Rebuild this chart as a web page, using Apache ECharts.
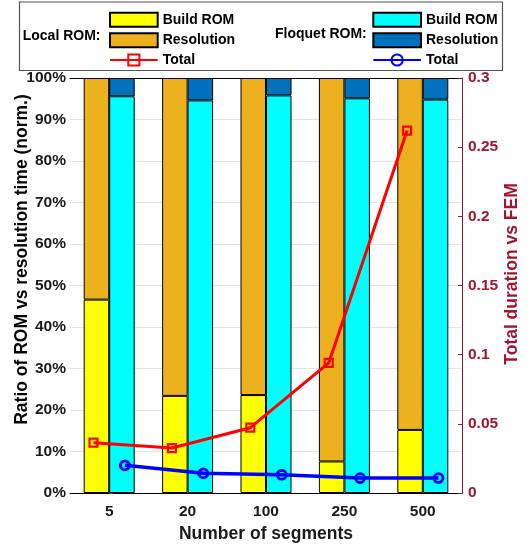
<!DOCTYPE html>
<html>
<head>
<meta charset="utf-8">
<script src="https://cdn.jsdelivr.net/npm/echarts@6/dist/echarts.min.js"></script>
<style>
html,body{margin:0;padding:0;background:#fff;}
#chart{width:532px;height:549px;}
</style>
</head>
<body>
<div id="chart"></div>
<script>
const categories = ['5', '20', '100', '250', '500'];
const localBuild = [46.6, 23.4, 23.6, 7.6, 15.2];
const localRes = [53.4, 76.6, 76.4, 92.4, 84.8];
const floquetBuild = [95.6, 94.6, 95.8, 95.1, 94.8];
const floquetRes = [4.4, 5.4, 4.2, 4.9, 5.2];
const localTotal = [0.0364, 0.0325, 0.0472, 0.094, 0.262];
const floquetTotal = [0.0200, 0.0142, 0.0132, 0.0108, 0.0108];
const leftAxisMax = 100, leftAxisStep = 10;
const rightAxisMax = 0.3, rightAxisStep = 0.05;

const FONT = '"Liberation Sans", Arial, sans-serif';
const DARKRED = '#A2142F';
const chart = echarts.init(document.getElementById('chart'), null, {renderer: 'canvas'});

function leg(name, left, top, icon) {
  const l = {
    data: [name], left: left, top: top, padding: 0, orient: 'vertical',
    itemWidth: 47.7, itemHeight: 14, itemGap: 0, selectedMode: false,
    textStyle: {fontFamily: FONT, fontWeight: 'bold', fontSize: 14, color: '#000'},
    formatter: function (n) { return n.replace(/^(Local|Floquet) /, ''); }
  };
  if (icon) l.icon = icon;
  return l;
}

const option = {
  animation: false,
  backgroundColor: '#fff',
  grid: {left: 70, right: 70, top: 78, bottom: 56, containLabel: false},
  legend: [
    leg('Local Build ROM', 109, 11.7, 'rect'),
    leg('Local Resolution', 109, 32.3, 'rect'),
    leg('Local Total', 109, 53),
    leg('Floquet Build ROM', 372.3, 11.7, 'rect'),
    leg('Floquet Resolution', 372.3, 32.3, 'rect'),
    leg('Floquet Total', 372.3, 53)
  ],
  graphic: [
    {type: 'rect', shape: {x: 19.5, y: 2, width: 483, height: 68.5},
     style: {fill: 'none', stroke: '#555', lineWidth: 1.2}, silent: true},
    {type: 'text', x: 22.7, y: 36, style: {text: 'Local ROM:', font: 'bold 14px ' + FONT, fill: '#000',
      textAlign: 'left', verticalAlign: 'middle', textVerticalAlign: 'middle'}},
    {type: 'text', x: 275, y: 34, style: {text: 'Floquet ROM:', font: 'bold 14px ' + FONT, fill: '#000',
      textAlign: 'left', verticalAlign: 'middle', textVerticalAlign: 'middle'}},
    {type: 'text', x: 21.7, y: 259.5, rotation: Math.PI / 2,
     style: {text: 'Ratio of ROM vs resolution time (norm.)', font: 'bold 17.5px ' + FONT, fill: '#000',
      textAlign: 'center', verticalAlign: 'middle', textVerticalAlign: 'middle'}},
    {type: 'text', x: 512.3, y: 274, rotation: Math.PI / 2,
     style: {text: 'Total duration vs FEM', font: 'bold 17.5px ' + FONT, fill: DARKRED,
      textAlign: 'center', verticalAlign: 'middle', textVerticalAlign: 'middle'}}
  ],
  xAxis: [
    {
      type: 'category', data: categories, position: 'bottom',
      axisLine: {lineStyle: {color: '#000', width: 1}},
      axisTick: {show: false},
      axisLabel: {fontFamily: FONT, fontWeight: 'bold', fontSize: 15.5, color: '#1a1a1a', margin: 11},
      name: 'Number of segments', nameLocation: 'middle', nameGap: 30,
      nameTextStyle: {fontFamily: FONT, fontWeight: 'bold', fontSize: 17.5, color: '#1a1a1a'}
    },
    {
      type: 'value', min: -0.5, max: 4.5, position: 'top',
      axisLine: {show: true, onZero: false, lineStyle: {color: '#000', width: 1}},
      axisTick: {show: false}, axisLabel: {show: false}, splitLine: {show: false}
    }
  ],
  yAxis: [
    {
      type: 'value', min: 0, max: leftAxisMax, interval: leftAxisStep, position: 'left',
      axisLine: {show: true, lineStyle: {color: '#404040', width: 1}},
      axisTick: {show: true, inside: true, length: 4, lineStyle: {color: '#404040'}},
      axisLabel: {formatter: '{value}%', fontFamily: FONT, fontWeight: 'bold', fontSize: 15.5, color: '#1a1a1a', margin: 4},
      splitLine: {show: true, lineStyle: {color: '#e3e3e3', width: 1}}
    },
    {
      type: 'value', min: 0, max: rightAxisMax, interval: rightAxisStep, position: 'right',
      axisLine: {show: true, lineStyle: {color: DARKRED, width: 1}},
      axisTick: {show: true, inside: true, length: 4, lineStyle: {color: DARKRED}},
      axisLabel: {fontFamily: FONT, fontWeight: 'bold', fontSize: 15.5, color: DARKRED, margin: 6},
      splitLine: {show: false}
    }
  ],
  series: [
    {name: 'Local Build ROM', type: 'bar', stack: 'local', data: localBuild, barWidth: 25.5, barGap: '0%',
     itemStyle: {color: '#FFFF00', borderColor: '#000', borderWidth: 1}},
    {name: 'Local Resolution', type: 'bar', stack: 'local', data: localRes, barWidth: 25.5, barGap: '0%',
     itemStyle: {color: '#EDB120', borderColor: '#000', borderWidth: 1}},
    {name: 'Floquet Build ROM', type: 'bar', stack: 'floquet', data: floquetBuild, barWidth: 25.5, barGap: '0%',
     itemStyle: {color: '#00FFFF', borderColor: '#000', borderWidth: 1}},
    {name: 'Floquet Resolution', type: 'bar', stack: 'floquet', data: floquetRes, barWidth: 25.5, barGap: '0%',
     itemStyle: {color: '#0072BD', borderColor: '#000', borderWidth: 1}},
    {name: 'Local Total', type: 'line', xAxisIndex: 1, yAxisIndex: 1, z: 5,
     data: localTotal.map(function (v, i) { return [i - 0.2, v]; }),
     symbol: 'rect', symbolSize: 8,
     lineStyle: {color: '#FF0000', width: 3},
     itemStyle: {color: 'rgba(0,0,0,0)', borderColor: '#FF0000', borderWidth: 2.2}},
    {name: 'Floquet Total', type: 'line', xAxisIndex: 1, yAxisIndex: 1, z: 5,
     data: floquetTotal.map(function (v, i) { return [i + 0.2, v]; }),
     symbol: 'circle', symbolSize: 9,
     lineStyle: {color: '#0000FF', width: 3.5},
     itemStyle: {color: 'rgba(0,0,0,0)', borderColor: '#0000FF', borderWidth: 2.8}}
  ]
};
chart.setOption(option);
</script>
</body>
</html>
